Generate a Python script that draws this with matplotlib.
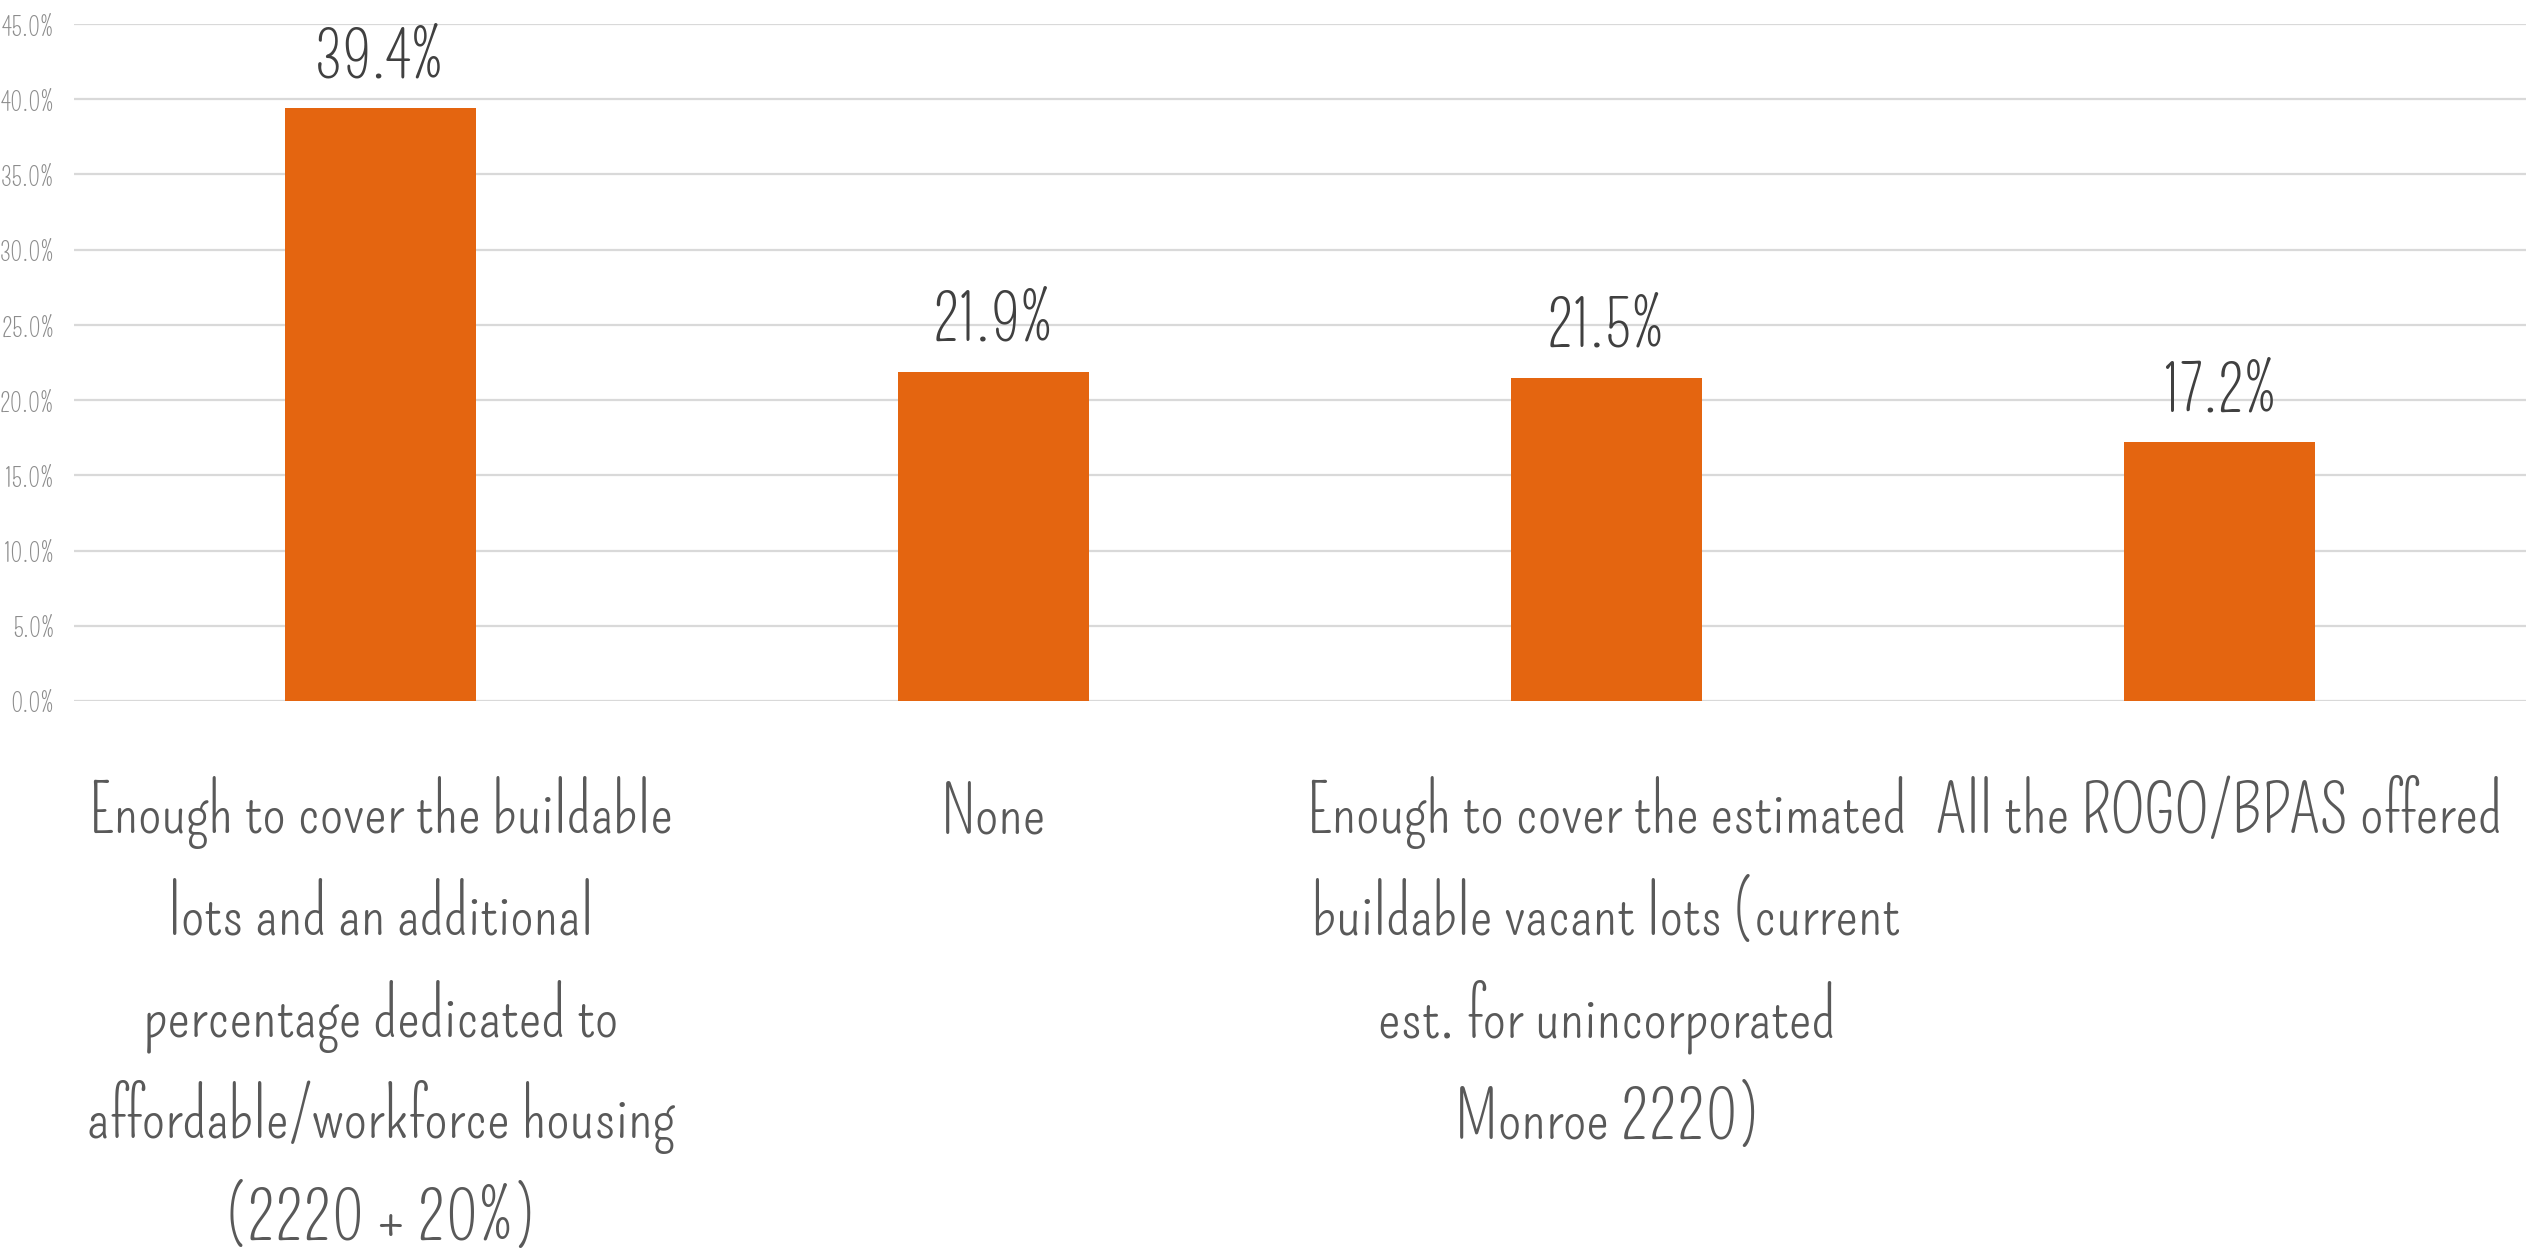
import matplotlib
matplotlib.use("Agg")
import matplotlib.pyplot as plt
from matplotlib.ticker import FuncFormatter, MultipleLocator

# Survey answers and their share of responses (percent)
categories = [
    "Enough to cover the buildable\nlots and an additional\npercentage dedicated to\naffordable/workforce housing\n(2220 + 20%)",
    "None",
    "Enough to cover the estimated\nbuildable vacant lots (current\nest. for unincorporated\nMonroe 2220)",
    "All the ROGO/BPAS offered",
]
values = [39.4, 21.9, 21.5, 17.2]

FONT = "Pompiere"
BAR_COLOR = "#E46510"

fig = plt.figure(figsize=(25.26, 12.55), dpi=100)
ax = fig.add_axes([74 / 2526, 554 / 1255, 1 - 74 / 2526, 677 / 1255])

x = list(range(len(categories)))
bars = ax.bar(x, values, width=0.313, color=BAR_COLOR, zorder=2)

ax.set_xlim(-0.5, len(categories) - 0.5)
ax.set_ylim(0, 45)
ax.yaxis.set_major_locator(MultipleLocator(5))
ax.yaxis.set_major_formatter(FuncFormatter(lambda v, p: f"{v:.1f}%"))
ax.grid(axis="y", color="#d9d9d9", linewidth=1.6, zorder=0)
ax.set_axisbelow(True)
for s in ax.spines.values():
    s.set_visible(False)

ax.set_xticks(x)
ax.set_xticklabels(categories, fontfamily=FONT, fontsize=48, color="#595959",
                   linespacing=1.49, ha="center", va="top")
ax.tick_params(axis="x", length=0, pad=54)
ax.tick_params(axis="y", length=0, pad=14, labelsize=18, labelcolor="#8c8c8c")
for t in ax.get_yticklabels():
    t.set_fontfamily(FONT)

# value labels above bars
for xi, v in zip(x, values):
    ax.annotate(f"{v}%", (xi, v), xytext=(0, 22), textcoords="offset points",
                ha="center", va="baseline", fontfamily=FONT, fontsize=45, color="#404040")

fig.savefig("out.png", dpi=100)
